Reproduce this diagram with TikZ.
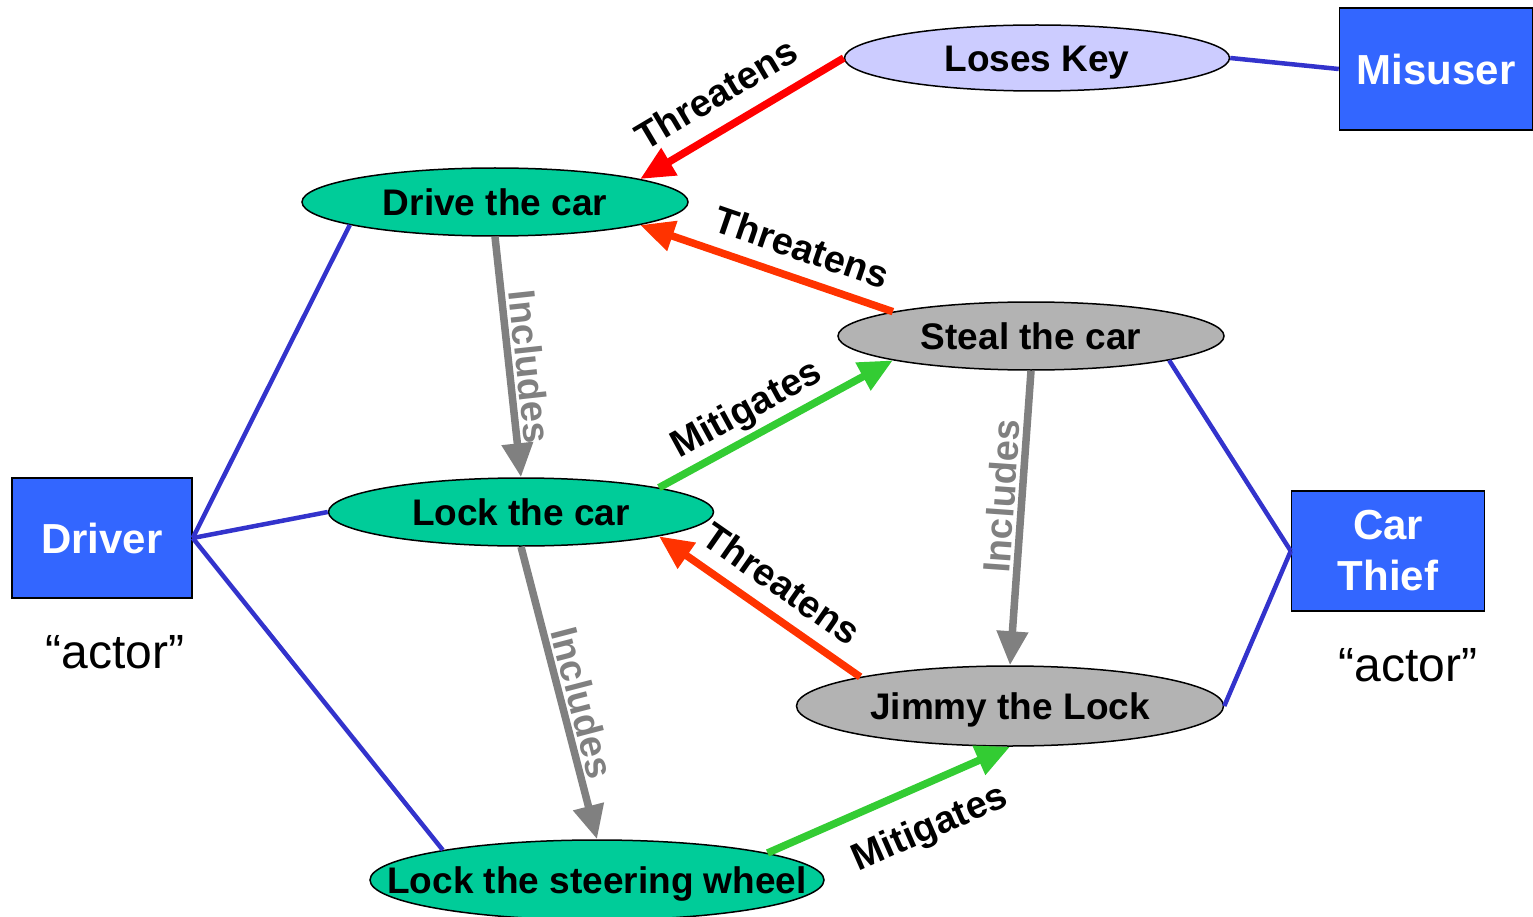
\documentclass[tikz,border=0pt]{standalone}
\usepackage{fontspec}
\setmainfont{Liberation Sans}
\usetikzlibrary{arrows.meta}
\usetikzlibrary{shapes.geometric}

\definecolor{actorblue}{HTML}{3366FF}
\definecolor{linkblue}{HTML}{3333CC}
\definecolor{ucgreen}{HTML}{00CC99}
\definecolor{ucgray}{HTML}{B3B3B3}
\definecolor{lkblue}{HTML}{CCCCFF}
\definecolor{threatred}{HTML}{FF0000}
\definecolor{threatorange}{HTML}{FF3300}
\definecolor{mitgreen}{HTML}{33CC33}
\definecolor{inclgray}{HTML}{808080}

\begin{document}
\begin{tikzpicture}[x=1pt, y=-1pt,
  usecase/.style={ellipse, draw, line width=1.5pt, inner sep=0pt,
    text height=27pt, text depth=0pt,
    font=\fontsize{37}{40}\selectfont\bfseries},
  actor/.style={rectangle, draw, line width=1.5pt, fill=actorblue, text=white,
    align=center, font=\fontsize{42}{51}\selectfont\bfseries},
  assoc/.style={draw=linkblue, line width=4.5pt},
  rel/.style={line width=7.5pt, -{Triangle[length=34pt, width=30pt]}},
  relname/.style={sloped, text=black, inner sep=14pt,
    font=\fontsize{38}{40}\selectfont\bfseries}]
\useasboundingbox (0,0) rectangle (1533,917);

% use cases
\node[usecase, fill=lkblue, minimum width=385, minimum height=66]
  (loseskey) at (1037,58) {\makebox[0pt]{Loses Key}};
\node[usecase, fill=ucgreen, minimum width=386, minimum height=68]
  (drive) at (495,202) {\makebox[0pt]{Drive the car}};
\node[usecase, fill=ucgray, minimum width=386, minimum height=68]
  (steal) at (1031,336) {\makebox[0pt]{Steal the car}};
\node[usecase, fill=ucgreen, minimum width=385, minimum height=68]
  (lockcar) at (521,512) {\makebox[0pt]{Lock the car}};
\node[usecase, fill=ucgray, minimum width=427, minimum height=80]
  (jimmy) at (1010,706) {\makebox[0pt]{Jimmy the Lock}};
\node[usecase, fill=ucgreen, minimum width=454, minimum height=80]
  (wheel) at (597,880) {\makebox[0pt]{Lock the steering wheel}};

% actors
\node[actor, minimum width=193, minimum height=122] (misuser) at (1436,69) {Misuser};
\node[actor, minimum width=180, minimum height=120] (driver) at (102,538) {Driver};
\node[actor, minimum width=193, minimum height=120] (thief) at (1388,551) {Car\\Thief};
\node[font=\fontsize{48}{50}\selectfont] (driverkind) at (115,652) {“actor”};
\node[font=\fontsize{48}{50}\selectfont] (thiefkind) at (1408,665) {“actor”};

%%%%%%%%%%%%%%%%%%%%%%%%%%%%%%%%%%%%%%%%

\draw[assoc] (loseskey.east) -- (misuser.west);
\draw[assoc] (driver.east) -- (drive.189.5);
\draw[assoc] (driver.east) -- (lockcar.west);
\draw[assoc] (driver.east) -- (wheel.169.4);
\draw[assoc] (thief.west) -- (steal.-10.8);
\draw[assoc] (thief.west) -- (jimmy.east);

\draw[rel, color=threatred] (loseskey.west)
  -- node[relname, above, pos=0.54, inner sep=17pt]{Threatens} (drive.9.9);
\draw[rel, color=threatorange] (steal.170.4)
  -- node[relname, above, pos=0.4]{Threatens} (drive.-9.5);
\draw[rel, color=threatorange] (jimmy.169)
  -- node[relname, above, pos=0.48]{Threatens} (lockcar.-10.6);
\draw[rel, color=mitgreen] (lockcar.10.4)
  -- node[relname, above, pos=0.43, inner sep=4pt]{Mitigates} (steal.190.7);
\draw[rel, color=mitgreen] (wheel.9.9)
  -- node[relname, below, pos=0.6, inner sep=22pt]{Mitigates} (jimmy.south);
\draw[rel, color=inclgray] (drive.south)
  -- node[relname, above, pos=0.55, inner sep=3pt, text=inclgray]{Includes} (lockcar.north);
\draw[rel, color=inclgray] (steal.south)
  -- node[relname, above, pos=0.43, inner sep=3pt, text=inclgray]{Includes} (jimmy.north);
\draw[rel, color=inclgray] (lockcar.south)
  -- node[relname, above, pos=0.55, inner sep=3pt, text=inclgray]{Includes} (wheel.north);

\end{tikzpicture}
\end{document}
